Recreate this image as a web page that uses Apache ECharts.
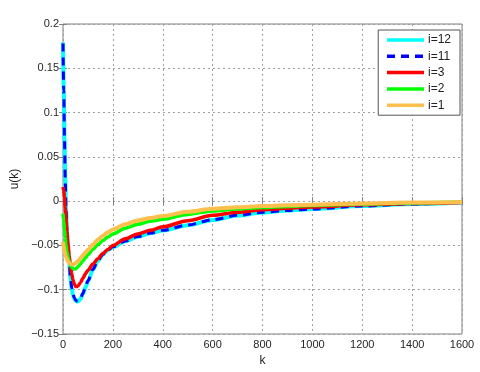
<!DOCTYPE html>
<html>
<head>
<meta charset="utf-8">
<script src="https://cdn.jsdelivr.net/npm/echarts@6/dist/echarts.min.js"></script>
<style>
    html, body { margin: 0; padding: 0; background: #fff; }
    #chart { width: 480px; height: 372px; }
</style>
</head>
<body>
<div id="chart"></div>
<script>
// sample instants k (denser near the start where the curves dip)
const kValues = [0, 3, 6, 9, 12, 16, 20, 25, 30, 35, 40, 45, 50, 55, 60, 70, 80, 90, 100,
    120, 140, 160, 180, 200, 250, 300, 350, 400, 500, 600, 700, 800, 900, 1000, 1200, 1400, 1600];

// u(k), one value per k above
const u12 = [0.179, 0.126, 0.071, 0.026, -0.007, -0.035, -0.052, -0.071, -0.087, -0.099, -0.106, -0.110, -0.1122, -0.1132, -0.1133,
    -0.1105, -0.1045, -0.0975, -0.0905, -0.0775, -0.0675, -0.0603, -0.0553, -0.0518, -0.0452, -0.0402, -0.0362, -0.0332,
    -0.0272, -0.0212, -0.0162, -0.0127, -0.0106, -0.0089, -0.0056, -0.0033, -0.0015];
const u11 = [0.178, 0.125, 0.07, 0.025, -0.008, -0.035, -0.052, -0.070, -0.086, -0.098, -0.105, -0.109, -0.1115, -0.1127, -0.1128,
    -0.110, -0.104, -0.097, -0.090, -0.077, -0.067, -0.060, -0.055, -0.0515, -0.045, -0.040, -0.036, -0.033,
    -0.027, -0.021, -0.016, -0.0125, -0.0105, -0.0088, -0.0055, -0.0032, -0.0015];
const u3 = [0.016, 0.012, 0.004, -0.008, -0.020, -0.035, -0.049, -0.062, -0.073, -0.082, -0.089, -0.093, -0.0962, -0.0965, -0.0958,
    -0.092, -0.087, -0.082, -0.078, -0.071, -0.065, -0.059, -0.0545, -0.050, -0.0425, -0.037, -0.033, -0.029,
    -0.022, -0.016, -0.0125, -0.0098, -0.008, -0.0066, -0.0042, -0.0026, -0.0014];
const u2 = [-0.014, -0.022, -0.032, -0.041, -0.049, -0.057, -0.063, -0.068, -0.072, -0.0745, -0.076, -0.0767, -0.0765, -0.0755, -0.074,
    -0.071, -0.0675, -0.064, -0.0605, -0.0545, -0.049, -0.0445, -0.0405, -0.037, -0.0305, -0.026, -0.0228, -0.0205,
    -0.015, -0.011, -0.0088, -0.0072, -0.006, -0.005, -0.0032, -0.002, -0.0011];
const u1 = [-0.046, -0.051, -0.056, -0.060, -0.063, -0.066, -0.068, -0.0698, -0.0708, -0.0714, -0.0715, -0.071, -0.0702, -0.069, -0.0675,
    -0.0645, -0.0612, -0.058, -0.055, -0.049, -0.0435, -0.039, -0.0352, -0.032, -0.026, -0.0218, -0.019, -0.0168,
    -0.012, -0.0086, -0.0068, -0.0056, -0.0047, -0.004, -0.0026, -0.0016, -0.0009];

const seriesNames = ['i=12', 'i=11', 'i=3', 'i=2', 'i=1'];
const seriesValues = [u12, u11, u3, u2, u1];
const seriesColors = ['#00ffff', '#0000ff', '#ff0000', '#00ff00', '#ffbf4d'];
const seriesWidths = [4, 3, 3.5, 3.5, 4];

const chart = echarts.init(document.getElementById('chart'));

const fontFamily = 'Liberation Sans, Arial, sans-serif';
const frameColor = '#808080';
const gridLine = { show: true, lineStyle: { color: '#a0a0a0', type: [2, 3], width: 1 } };

function fmtY(v) {
    const s = String(Math.round(v * 100) / 100);
    return s.replace('-', '\u2212');
}

const baseX = {
    type: 'value', min: 0, max: 1600, interval: 200,
    axisLine: { show: false },
    axisTick: { show: true, inside: true, length: 4, lineStyle: { color: frameColor } }
};
const baseY = {
    type: 'value', min: -0.15, max: 0.2, interval: 0.05,
    axisLine: { show: false },
    axisTick: { show: true, inside: true, length: 4, lineStyle: { color: frameColor } }
};

chart.setOption({
    animation: false,
    backgroundColor: '#fff',
    textStyle: { fontFamily: fontFamily },
    grid: {
        left: 63, right: 18, top: 24, bottom: 36,
        show: true, borderColor: frameColor, borderWidth: 1, backgroundColor: '#fff'
    },
    legend: {
        orient: 'vertical',
        right: 20,
        top: 30,
        padding: [4, 9, 4, 7],
        itemWidth: 37,
        itemHeight: 12,
        itemGap: 4.3,
        itemStyle: { opacity: 0 },
        backgroundColor: '#fff',
        borderColor: '#555',
        borderWidth: 1,
        borderRadius: 0,
        textStyle: { fontSize: 12, color: '#222', fontFamily: fontFamily, padding: [0, 0, 0, -1] },
        data: seriesNames.map(name => ({
            name: name,
            lineStyle: { width: 3.5 }
        }))
    },
    xAxis: [
        Object.assign({}, baseX, {
            position: 'bottom',
            name: 'k', nameLocation: 'middle', nameGap: 21,
            nameTextStyle: { fontSize: 12, color: '#222' },
            splitLine: gridLine,
            axisLabel: { fontSize: 11, color: '#262626', margin: 5, formatter: v => String(v) }
        }),
        Object.assign({}, baseX, {
            position: 'top',
            splitLine: { show: false },
            axisLabel: { show: false }
        })
    ],
    yAxis: [
        Object.assign({}, baseY, {
            position: 'left',
            name: 'u(k)', nameLocation: 'middle', nameGap: 31,
            nameTextStyle: { fontSize: 12, color: '#222' },
            splitLine: gridLine,
            axisLabel: { fontSize: 11, color: '#262626', margin: 4, formatter: fmtY }
        }),
        Object.assign({}, baseY, {
            position: 'right',
            splitLine: { show: false },
            axisLabel: { show: false }
        })
    ],
    series: seriesNames.map((name, i) => ({
        name: name,
        type: 'line',
        xAxisIndex: 0,
        yAxisIndex: 0,
        symbol: 'none',
        smooth: 0.3,
        smoothMonotone: 'x',
        color: seriesColors[i],
        lineStyle: {
            color: seriesColors[i],
            width: seriesWidths[i],
            type: name === 'i=11' ? [8, 6] : 'solid'
        },
        data: kValues.map((k, j) => [k, seriesValues[i][j]])
    }))
});
</script>
</body>
</html>
